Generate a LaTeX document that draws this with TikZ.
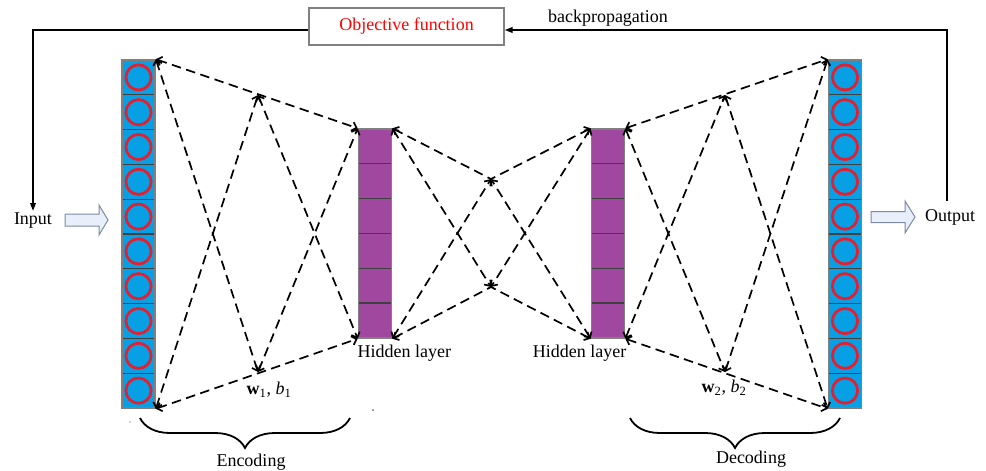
\documentclass[tikz,border=0pt]{standalone}
\usepackage{fontspec}
\setmainfont{Liberation Serif}
\usetikzlibrary{arrows.meta,decorations.pathreplacing,calc}
\definecolor{cellblue}{RGB}{8,160,228}
\definecolor{ringred}{RGB}{226,32,48}
\definecolor{cellpurple}{RGB}{160,72,160}
\definecolor{arrowfill}{RGB}{232,238,250}
\definecolor{arrowedge}{RGB}{125,138,160}
\definecolor{framegray}{RGB}{128,128,128}
\begin{document}
\begin{tikzpicture}[x=1pt,y=-1pt,
  lbl/.style={font=\fontsize{18}{21}\selectfont, inner sep=0.5pt},
  unitcell/.style={rectangle, inner sep=0pt, minimum width=33pt, minimum height=34.8pt,
    fill=cellblue, draw=black!75, line width=1.2pt,
    path picture={\draw[ringred, line width=2.8pt] (path picture bounding box.center) circle (12.6pt);}},
  hidcell/.style={rectangle, inner sep=0pt, minimum width=33pt, minimum height=34.8pt,
    fill=cellpurple, draw=black!75, line width=1.2pt},
  colframe/.style={rectangle, inner sep=0pt, minimum width=33pt, draw=framegray, line width=1.6pt},
  link/.style={line width=1.7pt, dash pattern=on 9.5pt off 5.5pt,
    >={Straight Barb[length=4.5pt,width=9pt]}},
  fb/.style={line width=1.8pt, -{Triangle[length=8pt,width=5.5pt]}},
  blockarrow/.style={fill=arrowfill, draw=arrowedge, line width=1pt},
  curly/.style={decorate, decoration={brace, mirror, amplitude=30pt}, line width=1.8pt},
  objbox/.style={rectangle, draw=framegray, line width=1.1pt, fill=white, text=red,
    minimum width=195pt, minimum height=37pt, font=\fontsize{18}{21}\selectfont}
]
\useasboundingbox (0,0) rectangle (986,471);

% ---- input and output columns (ten units each)
\foreach \i in {0,...,9} {
  \node[unitcell] (in\i)  at (138.5, 77.4+34.8*\i) {};
  \node[unitcell] (out\i) at (845,   77.4+34.8*\i) {};
}
\node[colframe, minimum height=348pt] (incol)  at (138.5,234) {};
\node[colframe, minimum height=348pt] (outcol) at (845,234) {};

% ---- hidden layers (six units each)
\foreach \i in {0,...,5} {
  \node[hidcell] (ha\i) at (375, 146.4+34.8*\i) {};
  \node[hidcell] (hb\i) at (608, 146.4+34.8*\i) {};
}
\node[colframe, minimum height=208.8pt] (hida) at (375,233.5) {};
\node[colframe, minimum height=208.8pt] (hidb) at (608,233.5) {};

% ---- junction points of the weight connections
\coordinate (m1t) at (258,95);
\coordinate (m1b) at (258,372);
\coordinate (m2t) at (725,95);
\coordinate (m2b) at (725,372);
\coordinate (ct)  at (491,179);
\coordinate (cb)  at (491,287);

% ---- encoder connections
\draw[link,<->] (incol.north east) -- (hida.north west);
\draw[link,<->] (incol.south east) -- (hida.south west);
\draw[link,<->] (incol.north east) -- (m1b);
\draw[link,<->] (incol.south east) -- (m1t);
\draw[link,<->] (m1t) -- (hida.south west);
\draw[link,<->] (m1b) -- (hida.north west);

% ---- connections between the hidden layers
\draw[link,<-]  (hida.north east) -- (ct);
\draw[link,<-]  (hidb.north west) -- (ct);
\draw[link,<-]  (hida.south east) -- (cb);
\draw[link,<-]  (hidb.south west) -- (cb);
\draw[link,<->] (hida.north east) -- (cb);
\draw[link,<->] (hidb.north west) -- (cb);
\draw[link,<->] (hida.south east) -- (ct);
\draw[link,<->] (hidb.south west) -- (ct);

% ---- decoder connections
\draw[link,<->] (hidb.north east) -- (outcol.north west);
\draw[link,<->] (hidb.south east) -- (outcol.south west);
\draw[link,<->] (hidb.north east) -- (m2b);
\draw[link,<->] (hidb.south east) -- (m2t);
\draw[link,<->] (m2t) -- (outcol.south west);
\draw[link,<->] (m2b) -- (outcol.north west);

% ---- labels
\node[lbl, anchor=west] (hla) at (357,353) {Hidden layer};
\node[lbl, anchor=east] (hlb) at (627,353) {Hidden layer};
\node[lbl] (wa) at (269,390) {\textbf{w}\textsubscript{1}, \textit{b}\textsubscript{1}};
\node[lbl] (wb) at (724,388) {\textbf{w}\textsubscript{2}, \textit{b}\textsubscript{2}};

% ---- braces
\coordinate (encl) at (140,418);
\coordinate (encr) at (350,418);
\coordinate (decl) at (630,418);
\coordinate (decr) at (840,418);
\draw[curly] (encl) -- (encr);
\draw[curly] (decl) -- (decr);
\node[lbl] (enc) at (251,462) {Encoding};
\node[lbl] (dec) at (751,459) {Decoding};

% ---- input / output
\node[lbl] (inlbl)  at (33,221)  {Input};
\node[lbl] (outlbl) at (950,217) {Output};
\draw[blockarrow] (65,214) -- (99,214) -- (99,205) -- (108,220) -- (99,235) -- (99,226) -- (65,226) -- cycle;
\draw[blockarrow] (871,211.5) -- (905,211.5) -- (905,201) -- (915,217) -- (905,233) -- (905,222.5) -- (871,222.5) -- cycle;

% ---- objective function and feedback loop
\node[objbox] (obj) at (406.5,26.5) {Objective function};
\node[lbl] (bp) at (608,18) {backpropagation};
\coordinate (fbrow) at (0,30);
\coordinate (fbin)  at (33,211);
\coordinate (fbout) at (947,201);
\draw[fb] (obj.west |- fbrow) -| (fbin);
\draw[fb] (fbout) |- (obj.east |- fbrow);

% ---- small specks
\fill[black!60] (373,410) circle (1pt);
\fill[black!35] (130,422) circle (0.8pt);
\end{tikzpicture}
\end{document}
